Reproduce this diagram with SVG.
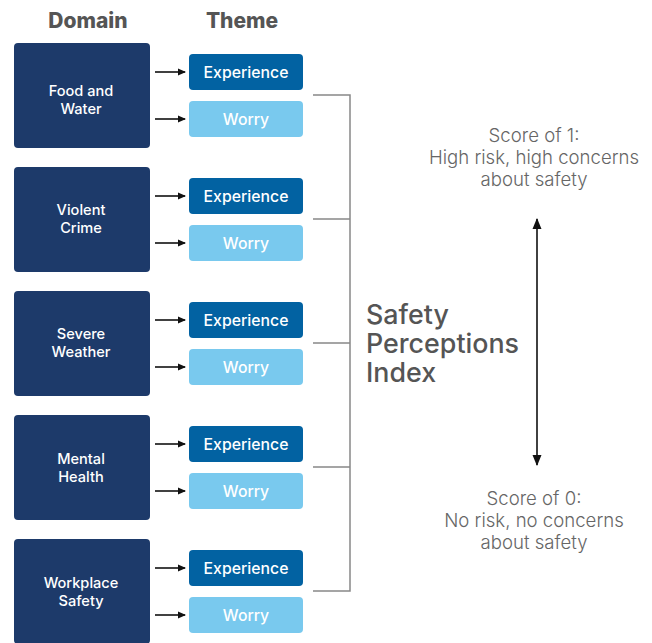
<svg xmlns="http://www.w3.org/2000/svg" width="652" height="643" viewBox="0 0 652 643">
  <defs>
    <marker id="ah" markerWidth="8" markerHeight="8" refX="7" refY="4" orient="auto" markerUnits="userSpaceOnUse">
      <path d="M0,0.5 L8,4 L0,7.5 Z" fill="#111"/>
    </marker>
    <marker id="ah2" markerWidth="12" markerHeight="12" refX="10" refY="6" orient="auto-start-reverse" markerUnits="userSpaceOnUse">
      <path d="M0,1.5 L11,6 L0,10.5 Z" fill="#111"/>
    </marker>
    <style>
      .hdr { font-family: "Inter", "Liberation Sans", sans-serif; font-weight: 800; font-size: 21px; fill: #555; text-anchor: middle; }
      .dom { fill: #1d3a6a; }
      .exp { fill: #0262a2; }
      .wor { fill: #79c9ee; }
      .dt { font-family: "Inter", "Liberation Sans", sans-serif; font-weight: 500; font-size: 14.6px; fill: #fff; text-anchor: middle; }
      .tt { font-family: "Inter", "Liberation Sans", sans-serif; font-weight: 500; font-size: 15.8px; fill: #fff; text-anchor: middle; }
      .arr { stroke: #111; stroke-width: 1.6; fill: none; }
      .brk { stroke: #888; stroke-width: 1.5; fill: none; }
      .idx { font-family: "Inter", "Liberation Sans", sans-serif; font-weight: 500; font-size: 26.8px; fill: #555; }
      .sc { font-family: "Inter", "Liberation Sans", sans-serif; font-weight: 300; font-size: 18.6px; fill: #666; text-anchor: middle; }
    </style>
  </defs>

  <text class="hdr" x="88" y="28">Domain</text>
  <text class="hdr" x="242" y="28">Theme</text>

  <!-- domain nodes -->
  <g id="food-water">
    <rect class="dom" x="14" y="43" width="136" height="105" rx="4"/>
    <text class="dt" x="81" y="96">Food and</text>
    <text class="dt" x="81" y="114">Water</text>
  </g>
  <g id="violent-crime">
    <rect class="dom" x="14" y="167" width="136" height="105" rx="4"/>
    <text class="dt" x="81" y="215">Violent</text>
    <text class="dt" x="81" y="233">Crime</text>
  </g>
  <g id="severe-weather">
    <rect class="dom" x="14" y="291" width="136" height="105" rx="4"/>
    <text class="dt" x="81" y="339">Severe</text>
    <text class="dt" x="81" y="357">Weather</text>
  </g>
  <g id="mental-health">
    <rect class="dom" x="14" y="415" width="136" height="105" rx="4"/>
    <text class="dt" x="81" y="464">Mental</text>
    <text class="dt" x="81" y="482">Health</text>
  </g>
  <g id="workplace-safety">
    <rect class="dom" x="14" y="539" width="136" height="105" rx="4"/>
    <text class="dt" x="81" y="588">Workplace</text>
    <text class="dt" x="81" y="606">Safety</text>
  </g>

  <!-- theme nodes -->
  <g id="food-experience"><rect class="exp" x="189" y="54" width="114" height="36" rx="4"/><text class="tt" x="246" y="77.5">Experience</text></g>
  <g id="food-worry"><rect class="wor" x="189" y="101" width="114" height="36" rx="4"/><text class="tt" x="246" y="124.5">Worry</text></g>
  <g id="crime-experience"><rect class="exp" x="189" y="178" width="114" height="36" rx="4"/><text class="tt" x="246" y="201.5">Experience</text></g>
  <g id="crime-worry"><rect class="wor" x="189" y="225" width="114" height="36" rx="4"/><text class="tt" x="246" y="248.5">Worry</text></g>
  <g id="weather-experience"><rect class="exp" x="189" y="302" width="114" height="36" rx="4"/><text class="tt" x="246" y="325.5">Experience</text></g>
  <g id="weather-worry"><rect class="wor" x="189" y="349" width="114" height="36" rx="4"/><text class="tt" x="246" y="372.5">Worry</text></g>
  <g id="mental-experience"><rect class="exp" x="189" y="426" width="114" height="36" rx="4"/><text class="tt" x="246" y="449.5">Experience</text></g>
  <g id="mental-worry"><rect class="wor" x="189" y="473" width="114" height="36" rx="4"/><text class="tt" x="246" y="496.5">Worry</text></g>
  <g id="workplace-experience"><rect class="exp" x="189" y="550" width="114" height="36" rx="4"/><text class="tt" x="246" y="573.5">Experience</text></g>
  <g id="workplace-worry"><rect class="wor" x="189" y="597" width="114" height="36" rx="4"/><text class="tt" x="246" y="620.5">Worry</text></g>

  <!-- index node -->
  <g id="safety-index">
    <text class="idx" x="366" y="324">Safety</text>
    <text class="idx" x="366" y="353">Perceptions</text>
    <text class="idx" x="366" y="382">Index</text>
  </g>

  <g id="score-high">
    <text class="sc" x="534" y="142">Score of 1:</text>
    <text class="sc" x="534" y="164">High risk, high concerns</text>
    <text class="sc" x="534" y="186">about safety</text>
  </g>
  <g id="score-low">
    <text class="sc" x="534" y="505">Score of 0:</text>
    <text class="sc" x="534" y="527">No risk, no concerns</text>
    <text class="sc" x="534" y="549">about safety</text>
  </g>

  <!-- connectors -->
  <g id="connectors">
    <line class="arr" x1="155" y1="72" x2="185" y2="72" marker-end="url(#ah)"/>
    <line class="arr" x1="155" y1="119" x2="185" y2="119" marker-end="url(#ah)"/>
    <line class="arr" x1="155" y1="196" x2="185" y2="196" marker-end="url(#ah)"/>
    <line class="arr" x1="155" y1="243" x2="185" y2="243" marker-end="url(#ah)"/>
    <line class="arr" x1="155" y1="320" x2="185" y2="320" marker-end="url(#ah)"/>
    <line class="arr" x1="155" y1="367" x2="185" y2="367" marker-end="url(#ah)"/>
    <line class="arr" x1="155" y1="444" x2="185" y2="444" marker-end="url(#ah)"/>
    <line class="arr" x1="155" y1="491" x2="185" y2="491" marker-end="url(#ah)"/>
    <line class="arr" x1="155" y1="568" x2="185" y2="568" marker-end="url(#ah)"/>
    <line class="arr" x1="155" y1="615" x2="185" y2="615" marker-end="url(#ah)"/>

    <path class="brk" d="M313,95 H350 V591 H313 M313,219 H350 M313,343 H350 M313,467 H350"/>

    <line class="arr" x1="537" y1="219" x2="537" y2="465" stroke-width="2" marker-start="url(#ah2)" marker-end="url(#ah2)"/>
  </g>
</svg>
